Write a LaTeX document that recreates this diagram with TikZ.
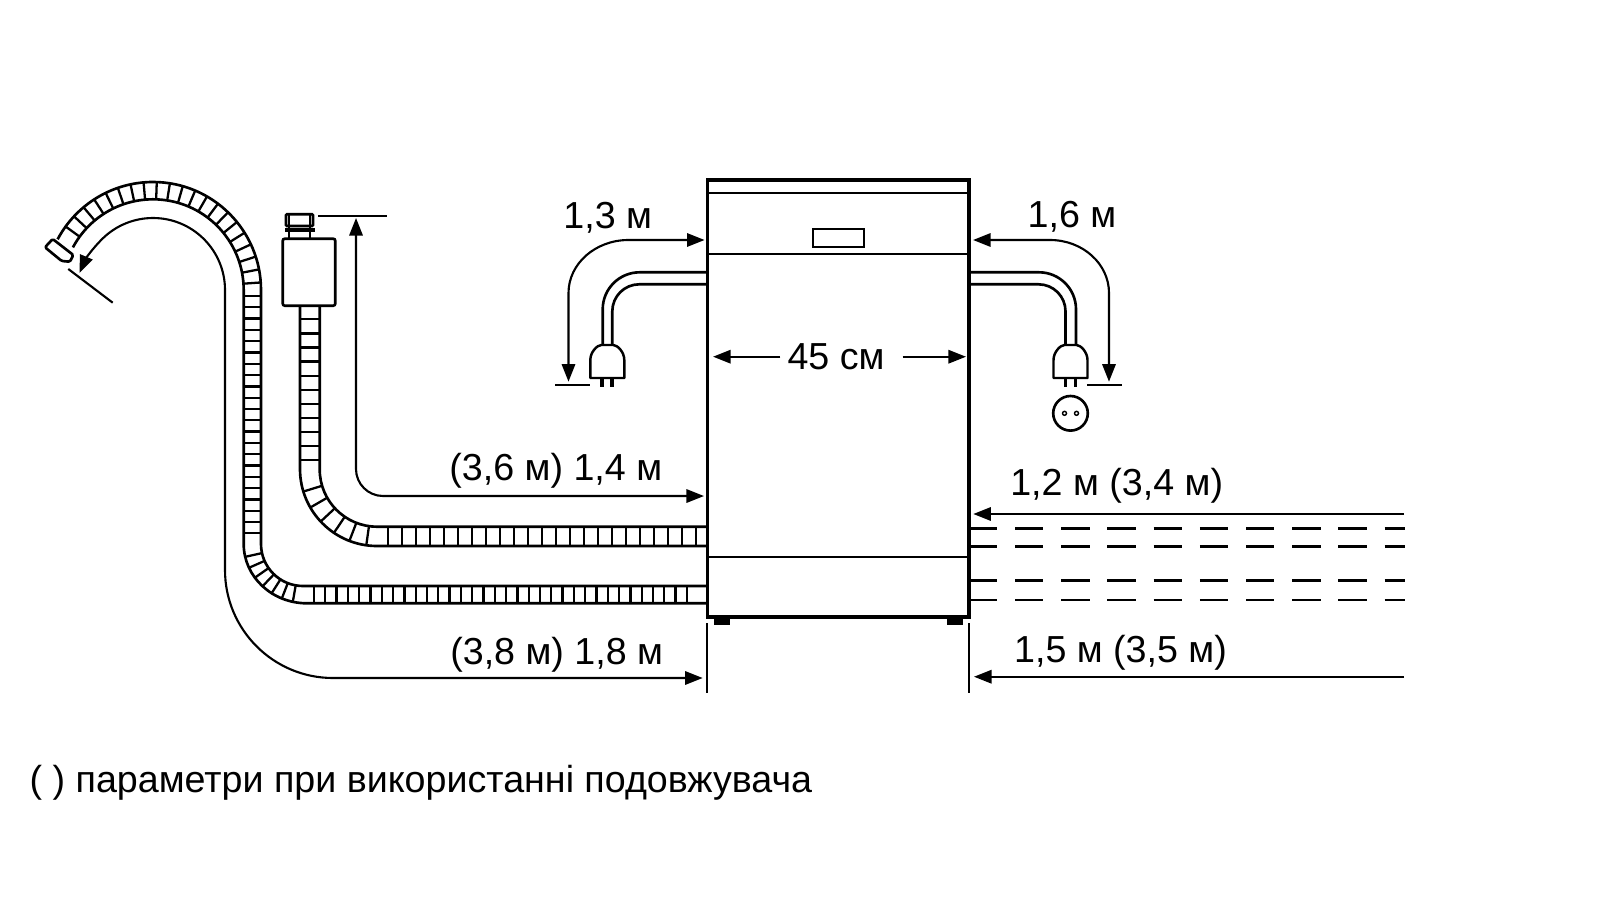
\documentclass[tikz,border=0pt]{standalone}
\usepackage{fontspec}
\setmainfont{Liberation Sans}
\usetikzlibrary{arrows.meta}
\tikzset{
  lab/.style={inner sep=0pt,anchor=base,font=\fontsize{10.7}{13}\selectfont},
  thin line/.style={line width=.6pt},
  hose/.style={line width=.75pt},
  rib/.style={line width=.65pt},
  dim/.style={line width=.6pt,{Triangle[length=5pt,width=3.8pt]}-{Triangle[length=5pt,width=3.8pt]}},
  dimend/.style={line width=.6pt,-{Triangle[length=5pt,width=3.8pt]}},
  dashes/.style={line width=.75pt,dash pattern=on 8.08pt off 5.06pt},
  plug/.pic={
    \draw[line width=.7pt,line join=round] (-17,33) -- (-17,15) .. controls (-17,7) and (-10,0) .. (-6,0) -- (6,0)
      .. controls (10,0) and (17,7) .. (17,15) -- (17,33) -- cycle;
    \draw[line width=1.1pt] (-5,33) -- (-5,42);
    \draw[line width=1.1pt] (5,33) -- (5,42);
  }
}
% ribs of a hose bend: centre, inner and outer radius, angles
\newcommand{\bendribs}[5]{
  \foreach \a in {#5}
    \draw[rib] ({#1+#3*cos(\a)},{#2+#3*sin(\a)}) -- ({#1+#4*cos(\a)},{#2+#4*sin(\a)});
}
\begin{document}
\begin{tikzpicture}[x=.01cm,y=-.01cm]
\useasboundingbox (0,0) rectangle (1600,900);
% supply lines on the right
\foreach \y in {528.3,546.7,580.7,600}
  \draw[dashes] (968.8,\y) -- (1405,\y);
% machine
\draw[line width=1.05pt] (707.5,180) -- (707.5,616.7) -- (969,616.7) -- (969,180);
\draw[line width=1.3pt] (706,180) -- (970.5,180);
\draw[thin line] (707.5,193.3) -- (969,193.3);
\draw[thin line] (707.5,254) -- (969,254);
\draw[thin line] (707.5,556.7) -- (969,556.7);
\draw[thin line] (813,229) rectangle (864,247.3);
\fill (714,616.7) rectangle (730,625);
\fill (946.7,616.7) rectangle (962.7,625);
% drain hose
\draw[hose] (706,603.3) -- (307,603.3) arc[start angle=90,end angle=180,x radius=63.3,y radius=59.3] -- (243.7,290)
  arc[start angle=0,end angle=-152,radius=90.7];
\draw[hose] (706,586) -- (303,586) arc[start angle=90,end angle=180,radius=42] -- (261,290)
  arc[start angle=0,end angle=-152,radius=108];
\foreach \x in {314,325.3,...,698}
  \draw[rib] (\x,586) -- (\x,603.3);
\foreach \y in {296,307.3,...,540}
  \draw[rib] (243.7,\y) -- (261,\y);
\bendribs{303}{544}{42}{59.3}{100,111.25,...,175}
\bendribs{153}{290}{90.7}{108}{-4,-11,...,-150}
\draw[hose,line join=round,rounded corners=.4pt] (52.7,239) -- (45,247.3) -- (61.7,261) -- (70,261.7) -- (73.3,255) -- cycle;
% inlet hose
\draw[hose] (706,546) -- (377,546) arc[start angle=90,end angle=180,radius=77] -- (300,305.7);
\draw[hose] (706,526.7) -- (377,526.7) arc[start angle=90,end angle=180,radius=57.3] -- (319.7,305.7);
\foreach \x in {388.3,402.3,...,698}
  \draw[rib] (\x,526.7) -- (\x,546);
\foreach \y in {319.3,333.4,...,465}
  \draw[rib] (300,\y) -- (320,\y);
\bendribs{377}{469}{57.3}{77}{98,111,...,172}
% valve
\draw[hose,rounded corners=.6pt] (282.7,238.7) rectangle (335.3,305.7);
\draw[hose,rounded corners=.3pt] (286,214.3) rectangle (313,226);
\draw[rib] (289,214.3) -- (289,226);
\draw[rib] (310,214.3) -- (310,226);
\draw[rib] (289,226) -- (289,238.7);
\draw[rib] (310,226) -- (310,238.7);
\draw[line width=1pt] (285,230) -- (315,230);
% mains cables
\draw[hose] (706,272.3) -- (639.7,272.3) arc[start angle=-90,end angle=-180,radius=37] -- (602.7,345);
\draw[hose] (706,284.3) -- (639.3,284.3) arc[start angle=-90,end angle=-180,radius=27] -- (612.3,345);
\draw[hose] (970,272.3) -- (1039,272.3) arc[start angle=-90,end angle=0,radius=37] -- (1076,345);
\draw[hose] (970,284.3) -- (1038.5,284.3) arc[start angle=-90,end angle=0,radius=27] -- (1065.5,345);
\pic at (607.3,345) {plug};
\pic at (1070.5,345) {plug};
\draw[hose] (1070.5,413.3) circle[radius=17.3];
\draw (1064.5,413.3) circle[radius=2];
\draw (1076.5,413.3) circle[radius=2];
% dimensions
\draw[dim] (704.6,240) -- (628.5,240) arc[start angle=-90,end angle=-180,x radius=60,y radius=53] -- (568.5,381.7);
\draw[thin line] (555.4,385.3) -- (590,385.3);
\draw[dim] (973,240) -- (1050,240) arc[start angle=-90,end angle=0,x radius=59,y radius=53] -- (1109,381.7);
\draw[thin line] (1087,385.3) -- (1122,385.3);
\draw[dimend] (780.4,356.7) -- (713,356.7);
\draw[dimend] (902.7,356.7) -- (966,356.7);
\draw[thin line] (318,215.7) -- (386.7,215.7);
\draw[dim] (356,218) -- (356,469) arc[start angle=180,end angle=90,radius=27] -- (704,496);
\draw[thin line] (68.3,269) -- (112.7,302.7);
\draw[dim] (702.7,678) -- (333,678) arc[start angle=90,end angle=180,radius=108] -- (225,290)
  arc[start angle=0,end angle=-135,radius=72] .. controls (92,249) and (85,260) .. (79.5,273);
\draw[thin line] (706.7,623) -- (706.7,693);
\draw[thin line] (969,623.3) -- (969,693.3);
\draw[dimend] (1404,514) -- (973.3,514);
\draw[dimend] (1404,676.7) -- (974,676.7);
% labels
\node[lab] (drainlab) at (556.7,664.5) {(3,8 м) 1,8 м};
\node[lab] (inletlab) at (555.8,480) {(3,6 м) 1,4 м};
\node[lab] (cableleft) at (607.8,228.5) {1,3 м};
\node[lab] (cableright) at (1072,227) {1,6 м};
\node[lab] (widthlab) at (836,369.3) {45 см};
\node[lab] (inright) at (1116.7,495.5) {1,2 м (3,4 м)};
\node[lab] (drainright) at (1120.5,662.5) {1,5 м (3,5 м)};
\node[lab,anchor=base west] (note) at (29,792.5) {( ) параметри при використанні подовжувача};
\end{tikzpicture}
\end{document}
